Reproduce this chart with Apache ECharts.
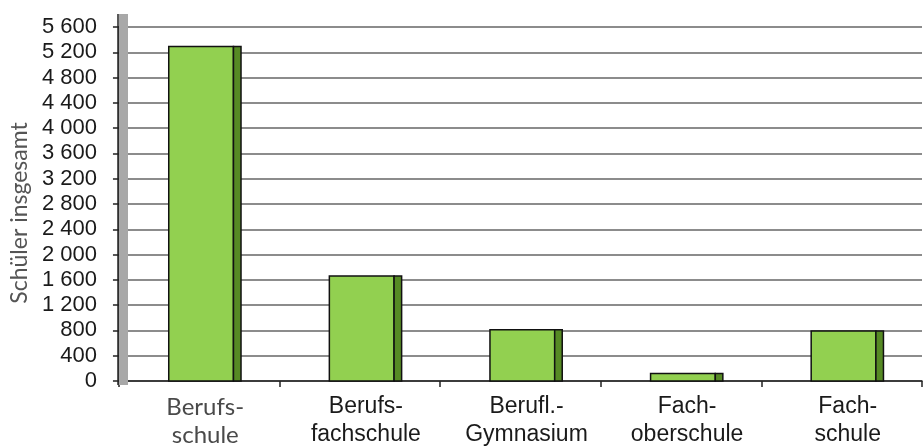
<!DOCTYPE html>
<html>
<head>
<meta charset="utf-8">
<script src="https://cdn.jsdelivr.net/npm/echarts@6/dist/echarts.min.js"></script>
<style>
html,body{margin:0;padding:0;background:#fff;}
#chart{width:924px;height:447px;}
</style>
</head>
<body>
<div id="chart"></div>
<script>
// ---- data ----
const categories = ["Berufs-\nschule", "Berufs-\nfachschule", "Berufl.-\nGymnasium", "Fach-\noberschule", "Fach-\nschule"];
const values = [5290, 1660, 810, 120, 790];
const yTicks = [0, 400, 800, 1200, 1600, 2000, 2400, 2800, 3200, 3600, 4000, 4400, 4800, 5200, 5600];
const yTitle = "Schüler insgesamt";

// ---- layout ----
const G = {left: 118, right: 2, top: 27, bottom: 62};
const H = 447;

const chart = echarts.init(document.getElementById('chart'), null, {renderer: 'canvas'});

function renderBar(params, api) {
  const i = api.value(0);
  const v = api.value(1);
  const top = api.coord([i, v]);
  const base = api.coord([i, 0]);
  const bw = api.size([1, 0])[0];
  const c = top[0];
  const fl = c - 0.19 * bw;
  const fw = 0.403 * bw;
  const sw = 0.047 * bw;
  const h = base[1] - top[1];
  return {
    type: 'group',
    children: [
      {type: 'rect', shape: {x: fl, y: top[1], width: fw, height: h},
       style: {fill: '#92d050', stroke: '#111', lineWidth: 1.5}},
      {type: 'rect', shape: {x: fl + fw, y: top[1], width: sw, height: h},
       style: {fill: '#568a24', stroke: '#111', lineWidth: 1.5}}
    ]
  };
}

const option = {
  animation: false,
  grid: {left: G.left, right: G.right, top: G.top, bottom: G.bottom, containLabel: false},
  xAxis: {
    type: 'category',
    data: categories,
    boundaryGap: true,
    axisLine: {show: true, lineStyle: {color: '#222', width: 1.5}},
    axisTick: {show: true, length: 6, lineStyle: {color: '#222', width: 1.5}},
    axisLabel: {
      margin: 12,
      interval: 0,
      padding: [0, 0, 0, 12],
      formatter: function (val, idx) {
        const parts = val.split('\n');
        const tag = idx === 0 ? 'a' : 'b';
        return parts.map(p => '{' + tag + '|' + p + '}').join('\n');
      },
      rich: {
        a: {fontFamily: 'Lato', fontSize: 24, color: '#4a4a4a', lineHeight: 28},
        b: {fontFamily: 'Liberation Sans', fontSize: 23, color: '#1a1a1a', lineHeight: 28}
      }
    }
  },
  yAxis: {
    type: 'value',
    min: 0,
    max: 5600,
    interval: 400,
    name: yTitle,
    nameLocation: 'middle',
    nameRotate: 90,
    nameGap: 84,
    nameTextStyle: {fontFamily: 'Lato', fontSize: 23, color: '#555', padding: [0, 0, 0, -18]},
    axisLine: {show: true, lineStyle: {color: '#222', width: 1.5}},
    axisTick: {show: true, length: 6, lineStyle: {color: '#222', width: 1.5}},
    axisLabel: {
      margin: 22,
      fontFamily: 'Liberation Sans',
      fontSize: 22,
      color: '#1a1a1a',
      formatter: function (v) {
        return yTicks.indexOf(v) >= 0 ? String(v).replace(/\B(?=(\d{3})+(?!\d))/g, ' ') : '';
      }
    },
    splitLine: {show: true, lineStyle: {color: '#8c8c8c', width: 2}}
  },
  graphic: [
    {type: 'rect', z: 1, shape: {x: G.left + 1, y: G.top - 13, width: 9, height: H - G.bottom - (G.top - 13)},
     style: {fill: '#a8a8a8'}},
    {type: 'line', z: 2, shape: {x1: G.left, y1: G.top - 13, x2: G.left, y2: H - G.bottom},
     style: {stroke: '#222', lineWidth: 1.5}}
  ],
  series: [{
    type: 'custom',
    renderItem: renderBar,
    data: values.map((v, i) => [i, v]),
    encode: {x: 0, y: 1},
    z: 3
  }]
};
chart.setOption(option);
</script>
</body>
</html>
